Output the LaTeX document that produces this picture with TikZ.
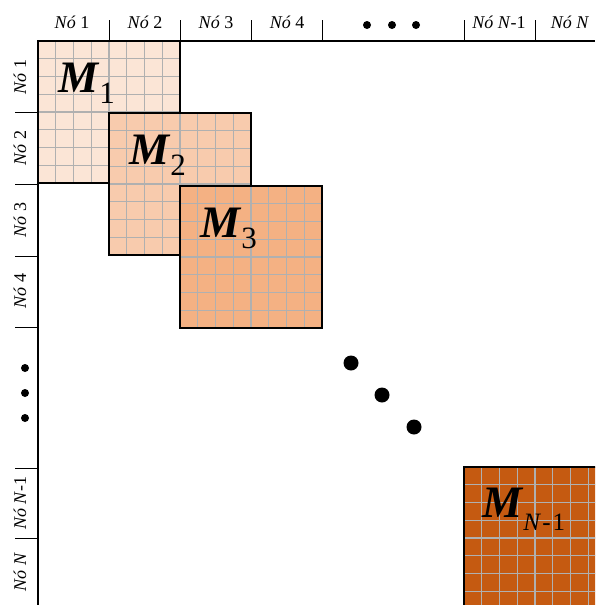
\documentclass[tikz,border=0pt]{standalone}
\usepackage{fontspec}
\setmainfont{Liberation Serif}
\usetikzlibrary{positioning}
\usetikzlibrary{calc}

\definecolor{blkA}{HTML}{FBE5D6}
\definecolor{blkB}{HTML}{F8CBAD}
\definecolor{blkC}{HTML}{F4B183}
\definecolor{blkD}{HTML}{C55A11}
\definecolor{gridc}{HTML}{B0B0B0}

% one block of the matrix: name, x, y, colour
\newcommand{\drawblk}[4]{%
  \node[blk,fill=#4] (#1) at (#2,#3) {};
  \foreach \k in {1,...,7} {
    \draw[gline] ($(#1.north west)+(\k*17.75,0)$) -- ($(#1.south west)+(\k*17.75,0)$);
    \draw[gline] ($(#1.north west)+(0,\k*17.75)$) -- ($(#1.north east)+(0,\k*17.75)$);
  }
  \draw[edge] (#1.north west) rectangle (#1.south east);
}

\begin{document}
\begin{tikzpicture}[x=1pt,y=-1pt,
  blk/.style={anchor=north west,minimum size=142pt,inner sep=0pt,outer sep=0pt},
  gline/.style={draw=gridc,line width=1.1pt},
  edge/.style={line width=1.3pt},
  axline/.style={line width=1.6pt},
  tk/.style={line width=0.9pt},
  axlab/.style={font=\fontsize{18}{18}\selectfont,inner sep=0pt},
  mlab/.style={font=\fontsize{45}{45}\selectfont,inner sep=0pt,anchor=base west},
  sdot/.style={fill=black,circle,inner sep=0pt,minimum size=8pt},
  bdot/.style={fill=black,circle,inner sep=0pt,minimum size=15pt}]
\useasboundingbox (0,0) rectangle (595,605);
\clip (0,0) rectangle (595,605);

% blocks
\drawblk{B1}{38}{41}{blkA}
\node[mlab] (L1) at ($(B1.north west)+(20,51)$) {\textbf{\textit{M}}\raisebox{-11pt}{\fontsize{31}{31}\selectfont 1}};
\drawblk{B2}{109}{113}{blkB}
\node[mlab] (L2) at ($(B2.north west)+(20,51)$) {\textbf{\textit{M}}\raisebox{-11pt}{\fontsize{31}{31}\selectfont 2}};
\drawblk{B3}{180}{186}{blkC}
\node[mlab] (L3) at ($(B3.north west)+(20,51)$) {\textbf{\textit{M}}\raisebox{-11pt}{\fontsize{31}{31}\selectfont 3}};
\drawblk{B4}{464}{467}{blkD}
\node[mlab] (L4) at ($(B4.north west)+(18,50)$) {\textbf{\textit{M}}\raisebox{-13pt}{\fontsize{25}{25}\selectfont\textit{N}\kern1pt-\kern2pt1}};

% axes
\draw[axline] (38,605) -- (38,41) -- (595,41);
\foreach \x in {109,180,251,322,464,535}
  \draw[tk] (\x,41) -- (\x,20);
\foreach \y in {112,184,256,327,468,538}
  \draw[tk] (38,\y) -- (15,\y);

% node labels
\foreach \x/\t [count=\i] in {72/1,145/2,216/3,287/4}
  \node[axlab] (T\i) at (\x,22) {\textit{Nó} \t};
\node[axlab] (T5) at (499,22) {\textit{Nó N}-1};
\node[axlab] (T6) at (570,22) {\textit{Nó N}};
\foreach \y/\t [count=\i] in {77/1,148/2,220/3,291/4}
  \node[axlab,rotate=90] (S\i) at (20,\y) {\textit{Nó} \t};
\node[axlab,rotate=90] (S5) at (20,503) {\textit{Nó N}-1};
\node[axlab,rotate=90] (S6) at (20,572) {\textit{Nó N}};

% dots
\foreach \x [count=\i] in {367,392,416}
  \node[sdot] (tdot\i) at (\x,25) {};
\foreach \y [count=\i] in {368,393,418}
  \node[sdot] (ldot\i) at (25,\y) {};
\foreach \x/\y [count=\i] in {351/363,382/395,414/427}
  \node[bdot] (ddot\i) at (\x,\y) {};
\end{tikzpicture}
\end{document}
